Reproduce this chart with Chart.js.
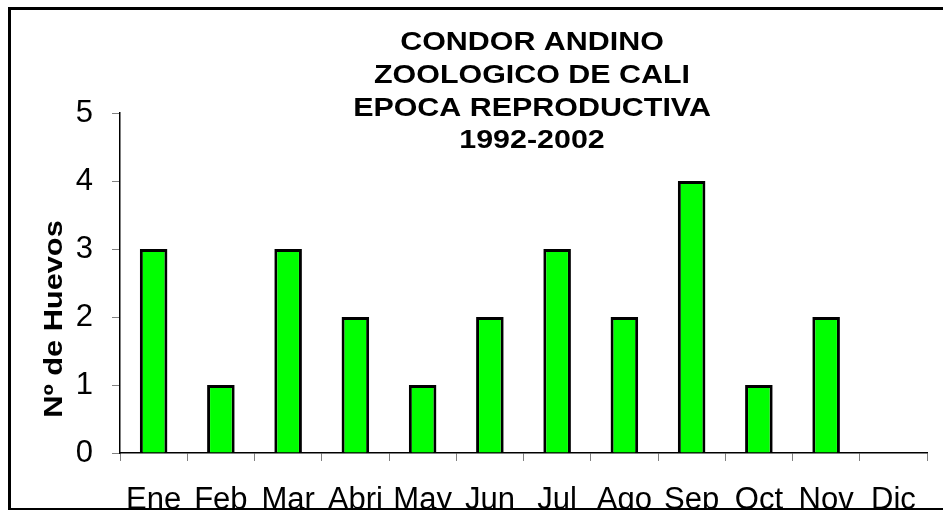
<!DOCTYPE html>
<html>
<head>
<meta charset="utf-8">
<script src="https://cdn.jsdelivr.net/npm/chart.js@4"></script>
<style>
    body { margin: 0; background: #fff; }
    #wrap { position: relative; width: 943px; height: 510px; overflow: hidden; }
    #frame {
        position: absolute; left: 8px; top: 7px; width: 1000px; height: 498px;
        border-top: 3px solid #000; border-left: 3px solid #000; border-bottom: 3px solid #000;
        pointer-events: none;
    }
    canvas { position: absolute; left: 0; top: 0; }
</style>
</head>
<body>
<div id="wrap">
    <canvas id="chart" width="943" height="540"></canvas>
    <div id="frame"></div>
</div>
<script>
const months = ["Ene", "Feb", "Mar", "Abri", "May", "Jun", "Jul", "Ago", "Sep", "Oct", "Nov", "Dic"];
const eggs = [3, 1, 3, 2, 1, 2, 3, 2, 4, 1, 2, null];
const titleLines = ["CONDOR ANDINO", "ZOOLOGICO DE CALI", "EPOCA REPRODUCTIVA", "1992-2002"];
const yTitle = "Nº de Huevos";
const FONT = "'Liberation Sans', Arial, sans-serif";

// title and y title are stretched text in the original, draw them by hand
const stretchedText = {
    id: "stretchedText",
    afterDraw(chart) {
        const ctx = chart.ctx;
        ctx.save();
        ctx.fillStyle = "#000";
        ctx.font = "bold 26px " + FONT;
        ctx.textAlign = "center";
        ctx.textBaseline = "alphabetic";
        const baselines = [50, 83, 115.5, 148];
        titleLines.forEach((line, i) => {
            ctx.save();
            ctx.translate(532, baselines[i]);
            ctx.scale(1.17, 1);
            ctx.fillText(line, 0, 0);
            ctx.restore();
        });

        ctx.font = "bold 25px " + FONT;
        ctx.translate(62, 319);
        ctx.rotate(-Math.PI / 2);
        ctx.scale(1.23, 1);
        ctx.fillText(yTitle, 0, 0);
        ctx.restore();
    }
};

new Chart(document.getElementById("chart"), {
    type: "bar",
    data: {
        labels: months,
        datasets: [{
            data: eggs,
            backgroundColor: "#00FF00",
            borderColor: "#000",
            borderWidth: 3,
            categoryPercentage: 1,
            barPercentage: 0.41
        }]
    },
    options: {
        responsive: false,
        animation: false,
        devicePixelRatio: 1,
        layout: { padding: { top: 113, right: 16, bottom: 0, left: 0 } },
        plugins: {
            legend: { display: false },
            title: { display: false },
            tooltip: { enabled: false }
        },
        scales: {
            x: {
                afterFit: scale => { scale.height = 87; },
                grid: { drawOnChartArea: false, tickLength: 8, tickColor: "#808080", offset: true },
                border: { color: "#000", width: 1.5 },
                ticks: { color: "#000", font: { family: FONT, size: 31 }, padding: 21, maxRotation: 0, autoSkip: false }
            },
            y: {
                min: 0,
                max: 5,
                afterFit: scale => { scale.width = 120; },
                grid: { drawOnChartArea: false, tickLength: 8, tickColor: "#808080" },
                border: { color: "#000", width: 1.5 },
                ticks: { stepSize: 1, color: "#000", font: { family: FONT, size: 31 }, padding: 19 }
            }
        }
    },
    plugins: [stretchedText]
});
</script>
</body>
</html>
